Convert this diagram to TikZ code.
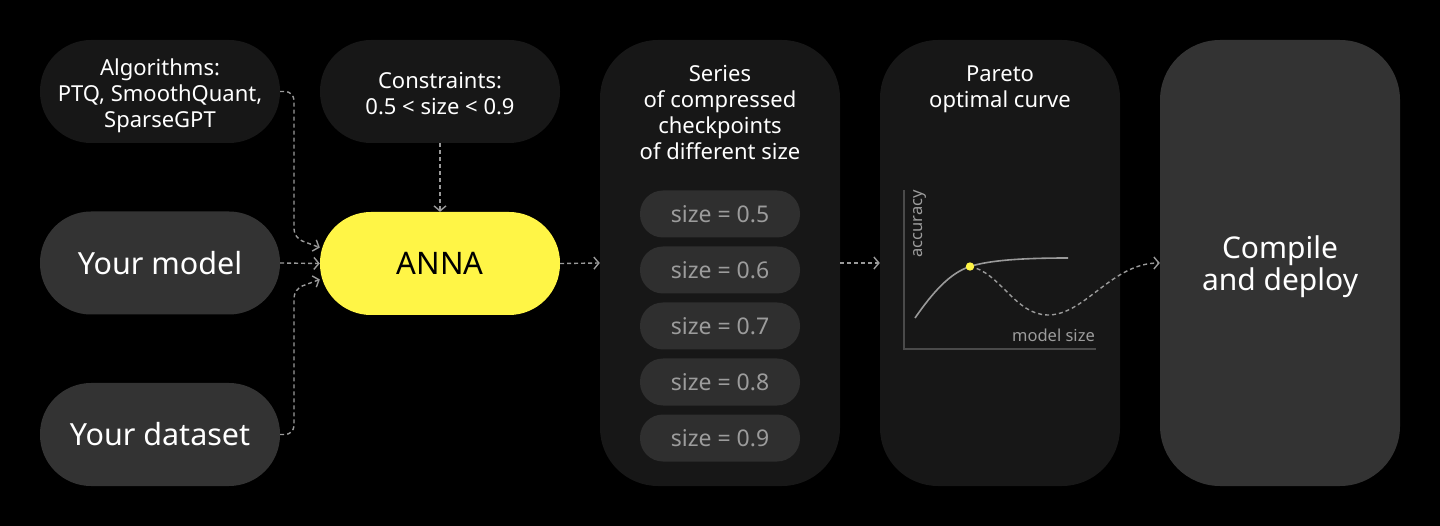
\documentclass[tikz,border=0pt]{standalone}
\usepackage{fontspec}
\setmainfont{Noto Sans}
\usetikzlibrary{arrows.meta,calc}
\definecolor{darkbox}{HTML}{171717}
\definecolor{midbox}{HTML}{333333}
\definecolor{pillbox}{HTML}{2F2F2F}
\definecolor{annayellow}{HTML}{FFF546}
\definecolor{conngray}{HTML}{9A9A9A}
\definecolor{axisgray}{HTML}{4A4A4A}
\definecolor{labelgray}{HTML}{9C9C9C}
\tikzset{
  pill/.style={rectangle, minimum width=240pt, minimum height=103pt, rounded corners=51pt,
    inner sep=0pt, align=center, text=white},
  smalltxt/.style={font=\fontsize{22}{26}\selectfont, text=white, align=center, inner sep=0pt},
  bigtxt/.style={font=\fontsize{30.5}{34}\selectfont},
  column/.style={rectangle, minimum width=240pt, minimum height=446pt, rounded corners=58pt, inner sep=0pt},
  sizepill/.style={rectangle, fill=pillbox, minimum width=160pt, minimum height=47pt, rounded corners=23pt,
    inner sep=0pt, text=labelgray, font=\fontsize{23}{26}\selectfont},
  conn/.style={draw=conngray, line width=1.4pt, dash pattern=on 4pt off 3pt,
    -{Straight Barb[length=5pt,width=12pt,line width=1.4pt]}},
  axis/.style={draw=axisgray, line width=1.5pt},
  charttxt/.style={text=labelgray, font=\fontsize{16.5}{19}\selectfont, inner sep=0pt}
}
\begin{document}
\begin{tikzpicture}[x=1pt,y=-1pt]
\fill[black] (0,0) rectangle (1440,526);
\useasboundingbox (0,0) rectangle (1440,526);

% left inputs
\node[pill, fill=darkbox] (alg) at (160,91.5) {};
\node[smalltxt] (algt) at (160,96) {Algorithms:\\PTQ, SmoothQuant,\\SparseGPT};
\node[pill, fill=darkbox] (cons) at (440,91.5) {};
\node[smalltxt] (const) at (440,94) {Constraints:\\0.5 < size < 0.9};
\node[pill, fill=midbox, bigtxt] (model) at (160,263) {Your model};
\node[pill, fill=midbox, bigtxt] (data) at (160,434.5) {Your dataset};
\node[pill, fill=annayellow, bigtxt, text=black, font=\fontsize{31}{34}\selectfont] (anna) at (440,263.5) {ANNA};

% series column
\node[column, fill=darkbox] (series) at (720,263) {};
\node[smalltxt] (seriest) at (720,113) {Series\\of compressed\\checkpoints\\of different size};
\node[sizepill] (s5) at (720,214) {size = 0.5};
\node[sizepill] (s6) at (720,270) {size = 0.6};
\node[sizepill] (s7) at (720,326) {size = 0.7};
\node[sizepill] (s8) at (720,382) {size = 0.8};
\node[sizepill] (s9) at (720,438) {size = 0.9};

% pareto column
\node[column, fill=darkbox] (pareto) at (1000,263) {};
\node[smalltxt] (paretot) at (1000,89) {Pareto\\optimal curve};
\coordinate (ytop) at (904,190);
\coordinate (origin) at (904,349);
\coordinate (xend) at (1096,349);
\draw[axis] (ytop) -- (origin) -- (xend);
\node[charttxt, rotate=90, anchor=south east] (acc) at (927,190) {accuracy};
\node[charttxt, anchor=base east] (msize) at (1095,342) {model size};
\coordinate (cstart) at (915,318);
\coordinate (cend) at (1068,258);
\coordinate (dot) at (970,266.5);
\draw[draw=conngray, line width=1.6pt] (cstart) .. controls (933,292) and (950,273) .. (dot)
  .. controls (990,260) and (1025,258) .. (cend);

% compile column
\node[column, fill=midbox, rounded corners=60pt] (compile) at (1280,263) {};
\node[text=white, align=center, inner sep=0pt, font=\fontsize{30}{32}\selectfont] (compilet) at (1280,267) {Compile\\and deploy};

% connectors
\draw[conn, rounded corners=9pt] (alg.east) -- (294,91.5) -- (294,238) -- ($(anna.west)+(0,-16)$);
\draw[conn] (model.east) -- (anna.west);
\draw[conn, rounded corners=9pt] (data.east) -- (294,434.5) -- (294,289) -- ($(anna.west)+(0,16)$);
\draw[conn] (cons.south) -- (anna.north);
\draw[conn] (anna.east) -- (series.west);
\draw[conn] (series.east) -- (pareto.west);
\draw[conn] (dot) .. controls (1000,272) and (1015,315) .. (1048,315)
  .. controls (1085,315) and (1112,263) .. (compile.west);
\fill[annayellow] (dot) circle (4.2pt);
\end{tikzpicture}
\end{document}
